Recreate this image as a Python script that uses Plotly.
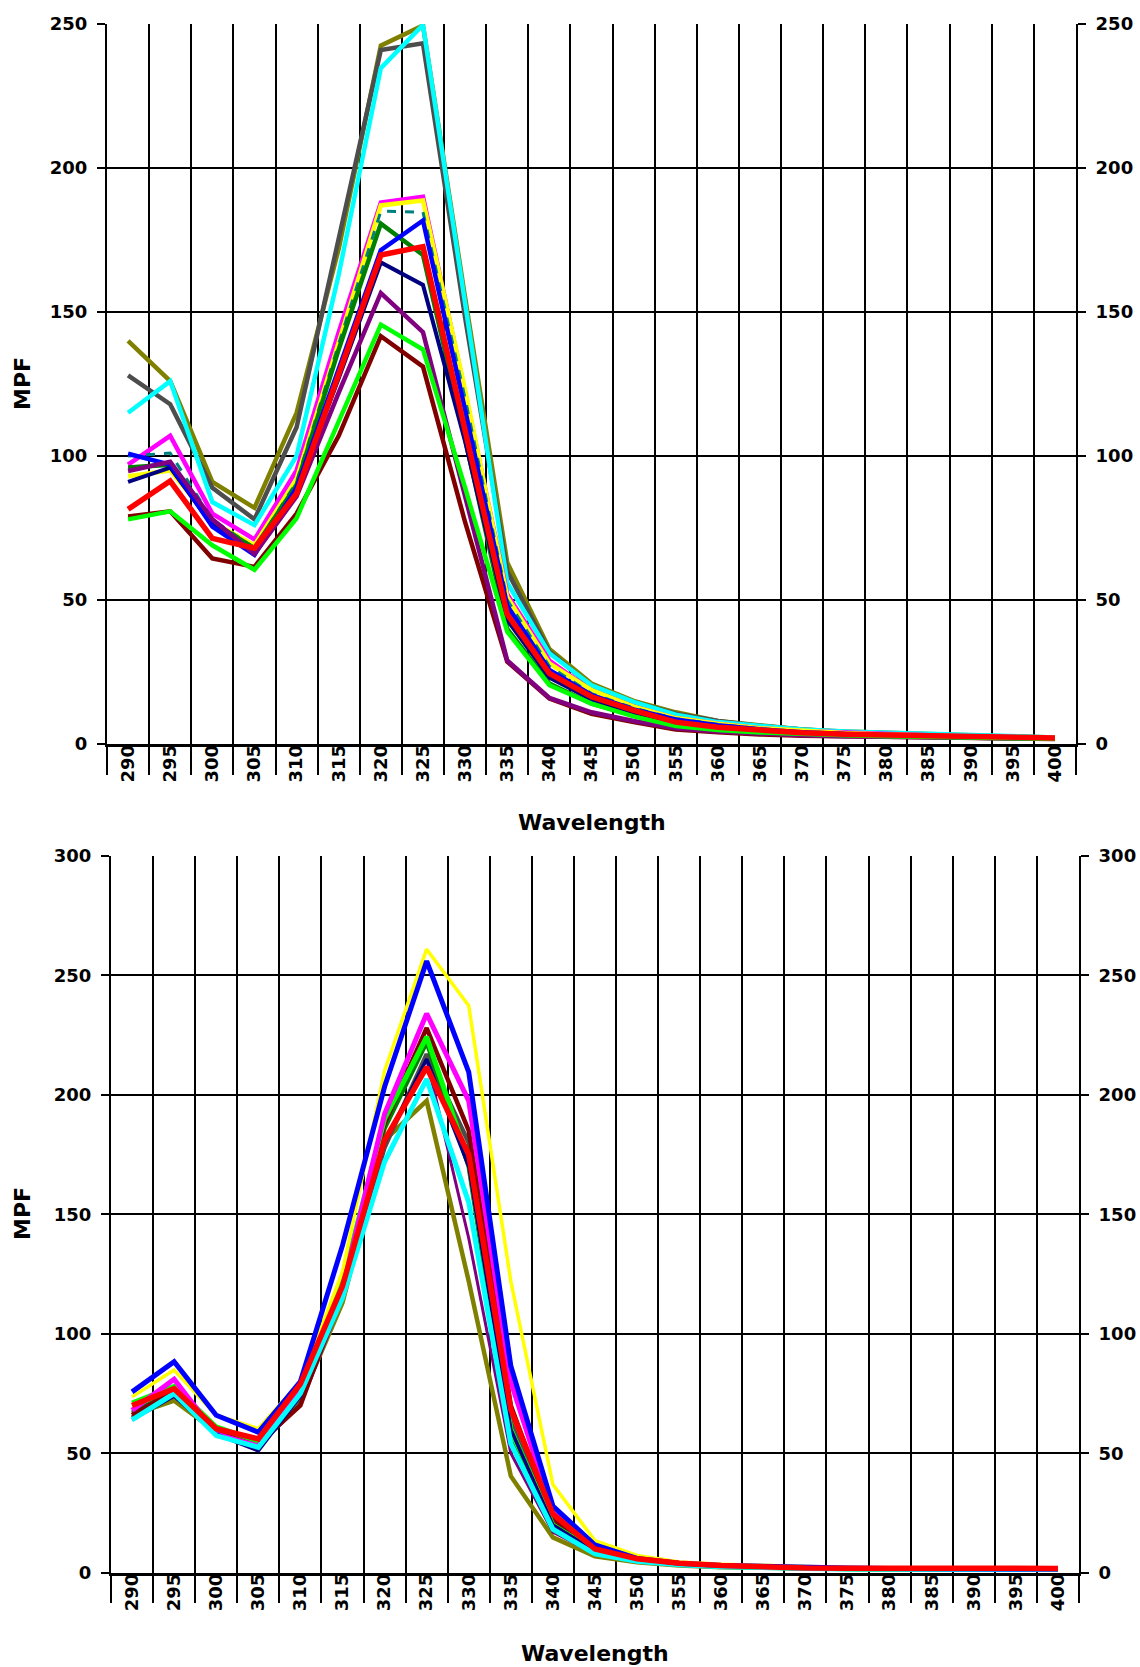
import plotly.graph_objects as go

# ---------------- data ----------------
wavelength = ["290", "295", "300", "305", "310", "315", "320", "325", "330", "335", "340", "345",
              "350", "355", "360", "365", "370", "375", "380", "385", "390", "395", "400"]

# top chart series
top_olive   = [140, 126, 91, 82, 115, 172, 242.5, 249.5, 155, 63, 33, 21, 15, 11, 8, 6.5, 5, 4.3, 3.8, 3.3, 2.9, 2.6, 2.3]
top_gray    = [128, 118, 89, 78, 110, 175, 241, 243.3, 148, 60, 32, 20, 14.5, 10.5, 8, 6.3, 5, 4.2, 3.7, 3.2, 2.8, 2.5, 2.2]
top_cyan    = [115, 126, 84, 76, 100, 163, 234.7, 249.7, 153, 56, 31.5, 20.4, 14.6, 10.2, 7.6, 6.2, 5, 4.3, 3.9, 3.4, 2.9, 2.6, 2.3]
top_magenta = [97, 107, 80, 71, 95, 143, 188, 190, 122, 52, 29, 18.5, 13, 9, 7, 5.5, 4.5, 3.9, 3.4, 3.0, 2.6, 2.3, 2.1]
top_yellow  = [93, 95, 77, 69, 92, 140, 187, 188.7, 123, 51, 28, 18.7, 13, 9, 7, 5.5, 4.5, 3.8, 3.3, 2.9, 2.6, 2.3, 2.1]
top_teal    = [100, 101, 78, 68, 91, 139, 185, 184.7, 120, 50, 27, 17.5, 12.5, 8.8, 6.8, 5.3, 4.3, 3.7, 3.2, 2.8, 2.5, 2.2, 2.0]
top_green   = [96, 97, 77, 68, 90, 137, 180.7, 169.8, 106, 40, 21, 14, 10, 7, 5.5, 4.5, 3.7, 3.2, 2.8, 2.5, 2.2, 2.0, 1.8]
top_navy    = [91, 96, 76, 66, 88, 127, 167.2, 159.4, 105, 43, 23, 15.5, 11, 7.8, 6, 4.8, 3.9, 3.3, 2.9, 2.6, 2.3, 2.1, 1.9]
top_blue    = [100.8, 97, 75.5, 65.7, 89, 130, 171.5, 181.8, 116, 48, 25.7, 17, 12, 8.5, 6.5, 5.1, 4.1, 3.5, 3.1, 2.7, 2.4, 2.2, 2.0]
top_maroon  = [79, 80.8, 64.4, 61.5, 80, 107, 141.6, 131, 77, 28.6, 15.8, 10.5, 7.6, 5, 4.1, 3.3, 2.9, 2.7, 2.5, 2.2, 2.0, 1.8, 1.7]
top_purple  = [94.8, 98, 78, 66, 86, 122, 156.6, 143, 86, 29, 16, 11, 8, 5.5, 4.3, 3.5, 3.0, 2.7, 2.5, 2.3, 2.1, 1.9, 1.8]
top_lime    = [78, 80.8, 69, 60.5, 78.4, 112, 145.6, 137, 89, 39, 20.4, 14, 9.6, 6.2, 4.9, 4.0, 3.4, 3.0, 2.7, 2.4, 2.2, 2.0, 1.8]
top_red     = [81.5, 91.3, 71.4, 68, 87, 128, 169.8, 172.7, 109.5, 45, 24.5, 16.4, 11.7, 7.6, 5.8, 4.7, 3.9, 3.4, 3.2, 2.9, 2.6, 2.3, 2.1]

# bottom chart series
bot_olive   = [66, 72, 59, 53, 72, 113, 181, 197.5, 122, 40.4, 14.8, 6.9, 4.4, 3.0, 2.3, 1.9, 1.7, 1.5, 1.4, 1.3, 1.3, 1.2, 1.2]
bot_purple  = [65, 75, 58, 53, 70, 115, 180, 215, 140, 50, 17, 8, 4.8, 3.3, 2.5, 2.0, 1.8, 1.6, 1.5, 1.4, 1.4, 1.3, 1.3]
bot_gray    = [65, 74, 60, 54, 73, 117, 178, 217, 180, 63, 20, 9, 5, 3.5, 2.6, 2.2, 1.9, 1.7, 1.6, 1.5, 1.4, 1.4, 1.3]
bot_dkgreen = [67, 76, 60, 54, 76, 119, 186, 222, 170, 55, 18, 8.5, 5, 3.4, 2.6, 2.1, 1.9, 1.7, 1.6, 1.5, 1.4, 1.4, 1.3]
bot_maroon  = [66, 76, 59, 54, 70, 118, 188, 228, 185, 70, 22, 9, 5, 3.5, 2.6, 2.2, 1.9, 1.7, 1.6, 1.5, 1.4, 1.4, 1.3]
bot_lime    = [71, 78, 61, 55, 78, 122, 190, 224.3, 172, 60, 20, 9, 5, 3.5, 2.6, 2.2, 1.9, 1.7, 1.6, 1.5, 1.4, 1.4, 1.3]
bot_magenta = [68, 81, 58, 53, 77, 119, 192, 234, 197.5, 80, 25, 10, 5.5, 3.8, 3.0, 2.4, 2.0, 1.8, 1.7, 1.6, 1.5, 1.5, 1.4]
bot_navy    = [64, 74, 58, 51, 74, 118, 180, 215, 170, 60, 20, 9, 5, 3.4, 2.6, 2.1, 1.9, 1.7, 1.6, 1.5, 1.4, 1.4, 1.3]
bot_cyan    = [64, 75, 57.4, 52.5, 75, 115, 172, 206.6, 155, 54, 18.2, 7.9, 4.8, 3.3, 2.5, 2.0, 1.8, 1.6, 1.5, 1.4, 1.4, 1.3, 1.3]
bot_yellow  = [73.6, 84.8, 65.9, 60.3, 80, 126, 210, 261, 237.3, 122, 36.9, 13.4, 7.2, 4.5, 3.5, 3.0, 2.5, 2.2, 2.0, 2.0, 1.8, 1.7, 1.6]
bot_blue    = [75.7, 88.3, 65.9, 58.8, 80, 137, 203.4, 256, 209.5, 86.5, 27.9, 11.6, 6.0, 4.0, 3.0, 2.5, 2.2, 2.0, 1.8, 1.7, 1.6, 1.5, 1.5]
bot_red     = [70, 77, 60.3, 56, 79, 120, 181, 211.6, 175, 68.3, 24.5, 9.9, 5.8, 4.0, 3.0, 2.3, 2.0, 1.9, 1.8, 1.8, 1.8, 1.8, 1.8]

top_ticks = [0, 50, 100, 150, 200, 250]
bot_ticks = [0, 50, 100, 150, 200, 250, 300]

# ---------------- styling ----------------
top_series = [
    (top_olive, "#808000", 4.5, "solid"),
    (top_gray, "#4D4D4D", 4.5, "solid"),
    (top_cyan, "#00FFFF", 4.5, "solid"),
    (top_magenta, "#FF00FF", 4.5, "solid"),
    (top_yellow, "#FFFF00", 4.5, "solid"),
    (top_teal, "#008080", 3, "dash"),
    (top_green, "#008000", 4.5, "solid"),
    (top_navy, "#000080", 4, "solid"),
    (top_blue, "#0000FF", 4.5, "solid"),
    (top_maroon, "#800000", 4.5, "solid"),
    (top_purple, "#800080", 4.5, "solid"),
    (top_lime, "#00FF00", 4.5, "solid"),
    (top_red, "#FF0000", 5.5, "solid"),
]
bot_series = [
    (bot_olive, "#808000", 4.5),
    (bot_purple, "#800080", 3),
    (bot_gray, "#4D4D4D", 4.5),
    (bot_dkgreen, "#008000", 4.5),
    (bot_maroon, "#800000", 4.5),
    (bot_lime, "#00FF00", 5),
    (bot_magenta, "#FF00FF", 5),
    (bot_navy, "#000080", 3.5),
    (bot_cyan, "#00FFFF", 5),
    (bot_yellow, "#FFFF00", 3.5),
    (bot_blue, "#0000FF", 5),
    (bot_red, "#FF0000", 5.5),
]

W, H = 1140, 1667
FONT = "DejaVu Sans, Verdana, Arial"
tickfont_y = dict(family=FONT, size=18, color="black", weight="bold")
tickfont_x = dict(family=FONT, size=18, color="black", weight="bold")

fig = go.Figure()
for vals, col, w, dash in top_series:
    fig.add_trace(go.Scatter(x=wavelength, y=vals, xaxis="x", yaxis="y", mode="lines",
                             line=dict(color=col, width=w, dash=dash), showlegend=False))
for vals, col, w in bot_series:
    fig.add_trace(go.Scatter(x=wavelength, y=vals, xaxis="x2", yaxis="y2", mode="lines",
                             line=dict(color=col, width=w), showlegend=False))
# helper traces so right-hand axes render
fig.add_trace(go.Scatter(x=[wavelength[0]], y=[0], xaxis="x", yaxis="y3", mode="lines",
                         showlegend=False, hoverinfo="skip"))
fig.add_trace(go.Scatter(x=[wavelength[0]], y=[0], xaxis="x2", yaxis="y4", mode="lines",
                         showlegend=False, hoverinfo="skip"))

def xax(domain, anchor):
    return dict(domain=domain, anchor=anchor, type="category", range=[-0.5, len(wavelength) - 0.5],
                tickson="boundaries", ticks="outside", ticklen=28, tickwidth=1.5, tickcolor="black",
                showgrid=True, gridcolor="black", gridwidth=1.5,
                showline=True, linecolor="black", linewidth=2.5, automargin=False,
                tickangle=-90, tickfont=tickfont_x, ticklabelstandoff=-9, zeroline=False)

def yax(domain, anchor, rng, tv, side="left", overlay=None):
    d = dict(domain=domain, anchor=anchor, range=rng, tickvals=tv, ticks="outside", ticklen=8,
             tickwidth=1.5, tickcolor="black", showline=True, linecolor="black", linewidth=2,
             tickfont=tickfont_y, zeroline=False, side=side, ticklabelstandoff=6, automargin=False)
    if overlay:
        d.update(overlaying=overlay, showgrid=False)
    else:
        d.update(showgrid=True, gridcolor="black", gridwidth=1.5)
    return d

top_x = [107 / W, 1076 / W]
top_y = [1 - 744 / H, 1 - 24 / H]
bot_x = [111 / W, 1079 / W]
bot_y = [1 - 1572.7 / H, 1 - 856 / H]

fig.update_layout(
    template="none",
    width=W, height=H, margin=dict(l=0, r=0, t=0, b=0, autoexpand=False),
    paper_bgcolor="white", plot_bgcolor="white",
    xaxis=xax(top_x, "y"),
    yaxis=yax(top_y, "x", [0, 250], top_ticks),
    yaxis3=yax(top_y, "x", [0, 250], top_ticks, side="right", overlay="y"),
    xaxis2=xax(bot_x, "y2"),
    yaxis2=yax(bot_y, "x2", [0, 300], bot_ticks),
    yaxis4=yax(bot_y, "x2", [0, 300], bot_ticks, side="right", overlay="y2"),
    showlegend=False,
)

title_font = dict(family=FONT, size=22, color="black", weight="bold")
annots = [
    dict(text="MPF", x=22 / W, y=1 - 384 / H, textangle=-90),
    dict(text="MPF", x=22 / W, y=1 - 1214 / H, textangle=-90),
    dict(text="Wavelength", x=591.5 / W, y=1 - 822 / H, textangle=0),
    dict(text="Wavelength", x=595 / W, y=1 - 1653 / H, textangle=0),
]
for a in annots:
    fig.add_annotation(xref="paper", yref="paper", showarrow=False, font=title_font,
                       xanchor="center", yanchor="middle", **a)

fig.write_html("out.html")
